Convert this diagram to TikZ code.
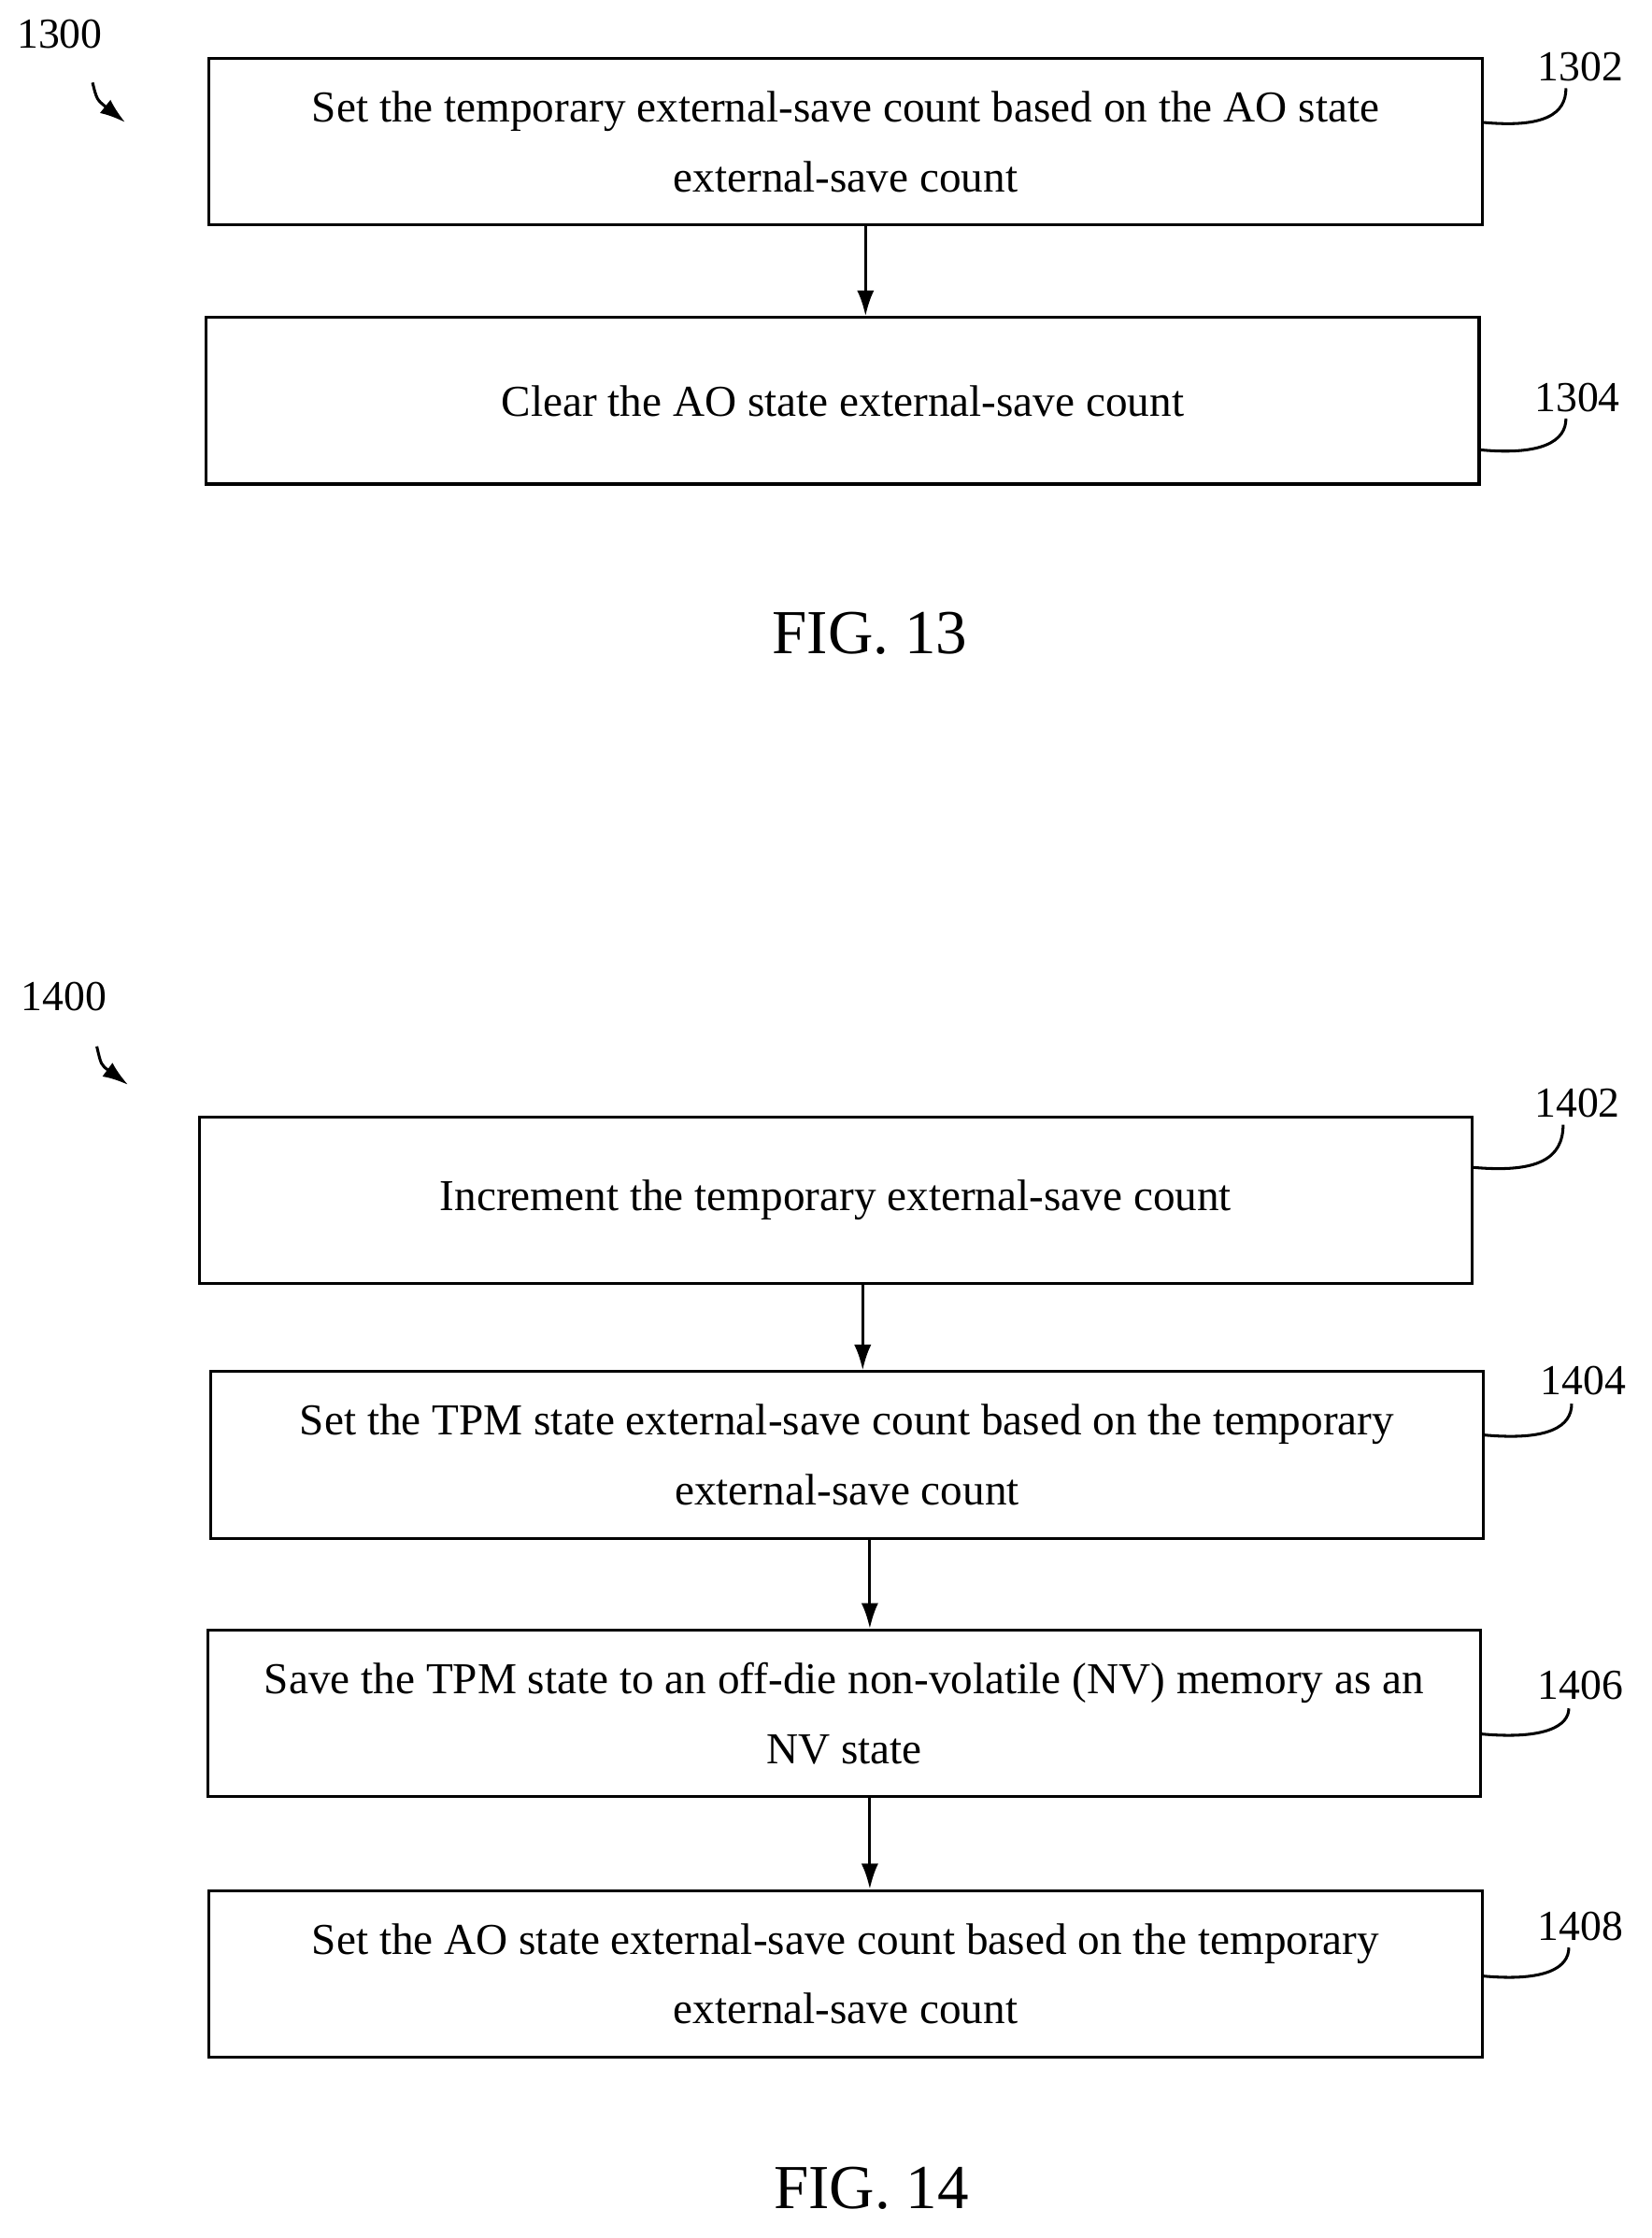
\documentclass[tikz,border=0pt]{standalone}
\usepackage{fontspec}
\setmainfont{Liberation Serif}
\usetikzlibrary{arrows.meta}
\begin{document}
\begin{tikzpicture}[x=0.5pt,y=-0.5pt,
 box/.style={draw,line width=1pt,minimum width=447pt,minimum height=58.5pt,align=center,font=\fontsize{15.5}{24.5}\selectfont,inner sep=0pt},
 lab/.style={font=\fontsize{15}{18}\selectfont},
 arr/.style={-{Latex[length=9pt,width=6pt]},line width=1pt},
 lead/.style={line width=1pt}]
\useasboundingbox (0,0) rectangle (1160,1572);
\node[box] (b1302) at (594,99.5) {Set the temporary external-save count based on the AO state\\external-save count};
\node[box] (b1304) at (592,281.5) {Clear the AO state external-save count};
\node[font=\fontsize{22}{26}\selectfont] (f13) at (611,445) {FIG. 13};
\node[lab] (l1300) at (42,24) {1300};
\coordinate (a1300) at (88,86);
\draw[arr] (65,58) .. controls (68,70) .. (a1300);
\node[lab] (l1302) at (1110,47) {1302};
\draw[lead] (b1302.east |- 0,86) .. controls (1085,90) and (1100,80) .. (1100,62);
\node[lab] (l1304) at (1108,279) {1304};
\draw[lead] (b1304.east |- 0,316) .. controls (1083,320) and (1100,310) .. (1100,294);
\draw[arr] (608,158) -- (608,222);

\node[box] (b1402) at (587,843) {Increment the temporary external-save count};
\node[box] (b1404) at (595,1022) {Set the TPM state external-save count based on the temporary\\external-save count};
\node[box] (b1406) at (593,1203.5) {Save the TPM state to an off-die non-volatile (NV) memory as an\\NV state};
\node[box] (b1408) at (594,1386.5) {Set the AO state external-save count based on the temporary\\external-save count};
\node[font=\fontsize{22}{26}\selectfont] (f14) at (612,1537) {FIG. 14};
\node[lab] (l1400) at (45,700) {1400};
\coordinate (a1400) at (90,762);
\draw[arr] (68,735) .. controls (71,748) .. (a1400);
\node[lab] (l1402) at (1108,775) {1402};
\draw[lead] (b1402.east |- 0,820) .. controls (1080,824) and (1098,814) .. (1098,790);
\node[lab] (l1404) at (1112,970) {1404};
\draw[lead] (b1404.east |- 0,1008) .. controls (1088,1012) and (1104,1002) .. (1104,986);
\node[lab] (l1406) at (1110,1184) {1406};
\draw[lead] (b1406.east |- 0,1218) .. controls (1086,1222) and (1102,1212) .. (1102,1200);
\node[lab] (l1408) at (1110,1353) {1408};
\draw[lead] (b1408.east |- 0,1388) .. controls (1086,1392) and (1102,1382) .. (1102,1368);
\draw[arr] (b1402.south -| 606,0) -- (b1404.north -| 606,0);
\draw[arr] (b1404.south -| 611,0) -- (b1406.north -| 611,0);
\draw[arr] (b1406.south -| 611,0) -- (b1408.north -| 611,0);
\end{tikzpicture}
\end{document}
